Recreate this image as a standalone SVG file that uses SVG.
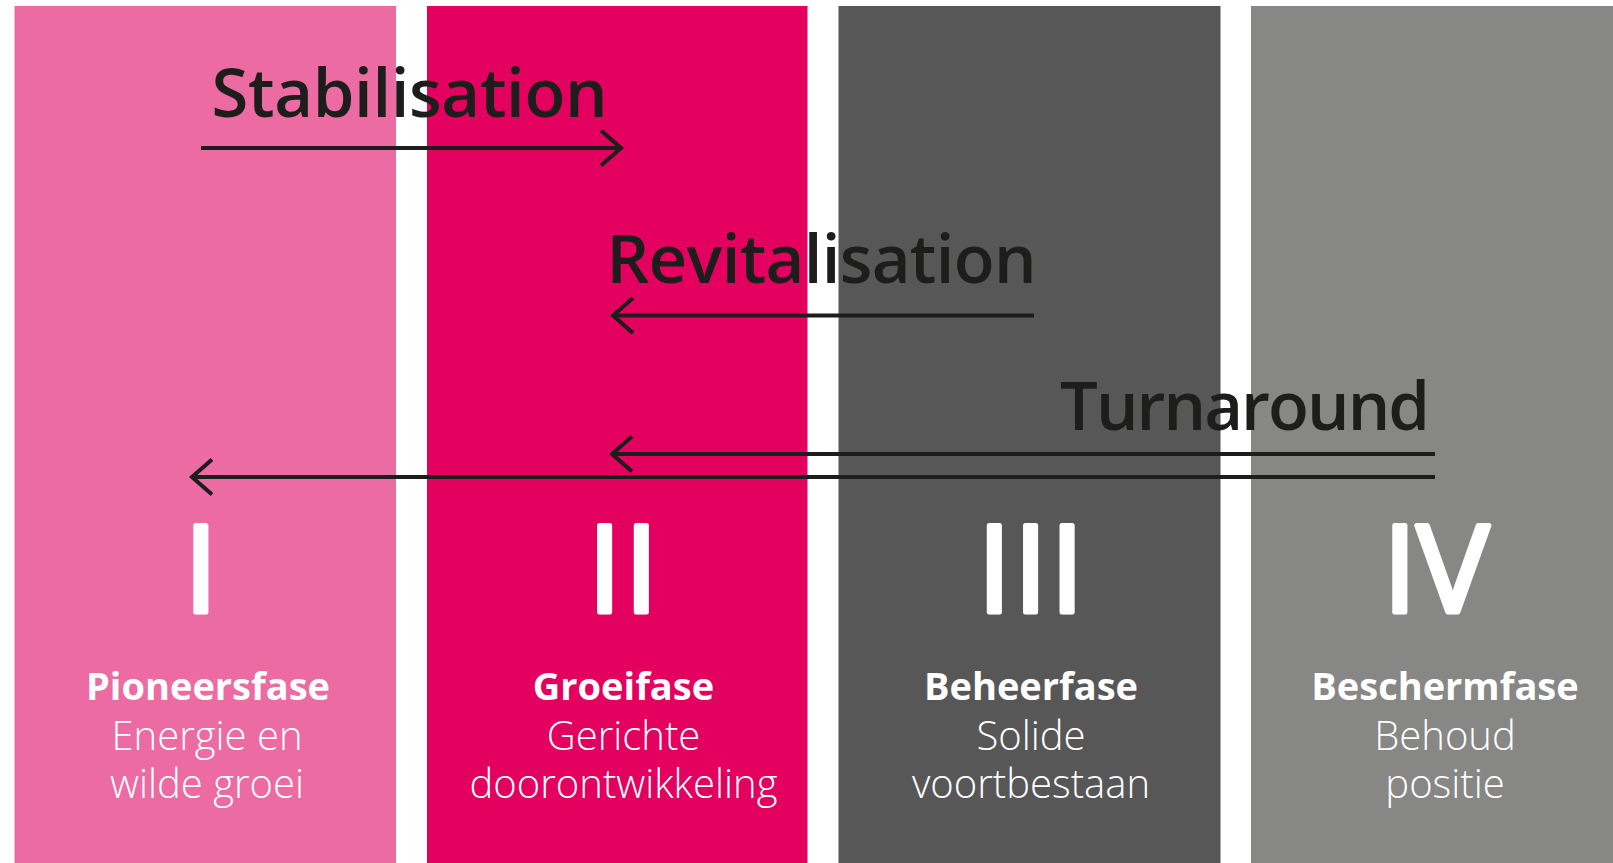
<svg xmlns="http://www.w3.org/2000/svg" width="1613" height="863" viewBox="0 0 1613 863">
  <style>
    .heading { font-family: "Open Sans", "Liberation Sans", sans-serif; font-weight: 600; font-size: 67px; fill: #1d1d1b; }
    .num { font-family: "Open Sans", "Liberation Sans", sans-serif; font-weight: 400; font-size: 121px; fill: #ffffff; stroke: #ffffff; stroke-width: 5; stroke-linejoin: round; text-anchor: middle; }
    .title { font-family: "Open Sans", "Liberation Sans", sans-serif; font-weight: 700; font-size: 38px; fill: #ffffff; text-anchor: middle; }
    .sub { font-family: "Open Sans", "Liberation Sans", sans-serif; font-weight: 300; font-size: 40px; fill: #ffffff; text-anchor: middle; }
    .conn { fill: none; stroke: #1d1d1b; stroke-width: 4; }
  </style>
  <defs>
    <marker id="chev" markerUnits="userSpaceOnUse" markerWidth="30" markerHeight="44" viewBox="-24 -22 30 44" refX="0" refY="0" orient="auto">
      <path d="M-20,-17.5 L0,0 L-20,17.5" fill="none" stroke="#1d1d1b" stroke-width="4"/>
    </marker>
  </defs>
  <rect width="1613" height="863" fill="#ffffff"/>

  <g id="phase1">
    <rect x="14.5" y="6" width="381.5" height="857" fill="#ec6ba2"/>
    <text class="num" x="201" y="612">I</text>
    <text class="title" x="208" y="700">Pioneersfase</text>
    <text class="sub" x="207" y="750">Energie en</text>
    <text class="sub" x="207" y="798">wilde groei</text>
  </g>
  <g id="phase2">
    <rect x="427" y="6" width="380.5" height="857" fill="#e3005f"/>
    <text class="num" x="624.5" y="612" letter-spacing="3">II</text>
    <text class="title" x="623.5" y="700">Groeifase</text>
    <text class="sub" x="623.5" y="750">Gerichte</text>
    <text class="sub" x="623.5" y="798">doorontwikkeling</text>
  </g>
  <g id="phase3">
    <rect x="838.5" y="6" width="382" height="857" fill="#575757"/>
    <text class="num" x="1032" y="612" letter-spacing="2.5">III</text>
    <text class="title" x="1031" y="700">Beheerfase</text>
    <text class="sub" x="1031" y="750">Solide</text>
    <text class="sub" x="1031" y="798">voortbestaan</text>
  </g>
  <g id="phase4">
    <rect x="1251" y="6" width="362" height="857" fill="#878786"/>
    <text class="num" x="1436" y="612">IV</text>
    <text class="title" x="1445" y="700">Beschermfase</text>
    <text class="sub" x="1445" y="750">Behoud</text>
    <text class="sub" x="1445" y="798">positie</text>
  </g>

  <g id="labels">
    <text class="heading" x="211.5" y="117" textLength="396">Stabilisation</text>
    <text class="heading" x="606.5" y="283" textLength="430">Revitalisation</text>
    <text class="heading" x="1060" y="430" textLength="370">Turnaround</text>
  </g>

  <g id="connectors">
    <path class="conn" d="M201,148 L621,148" marker-end="url(#chev)"/>
    <path class="conn" d="M1034,315.5 L613,315.5" marker-end="url(#chev)"/>
    <path class="conn" d="M1435,454 L612,454" marker-end="url(#chev)"/>
    <path class="conn" d="M1435,477 L192,477" marker-end="url(#chev)"/>
  </g>
</svg>
